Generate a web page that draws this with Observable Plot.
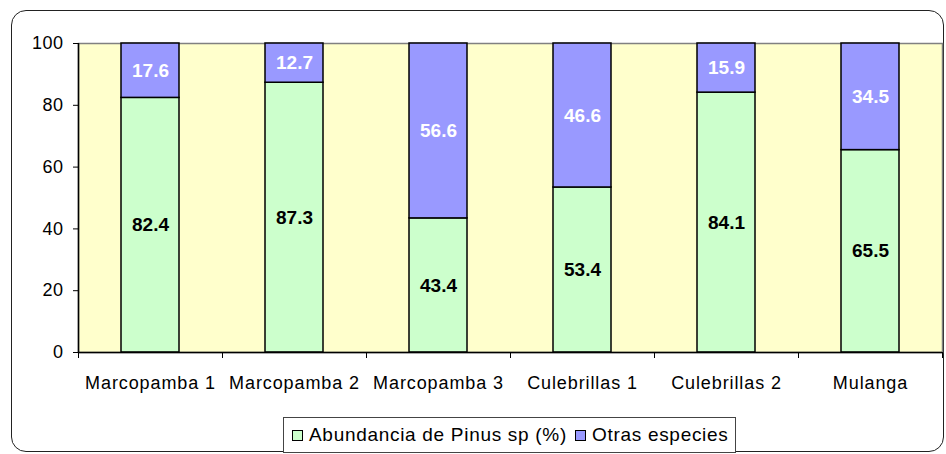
<!DOCTYPE html>
<html>
<head>
<meta charset="utf-8">
<script src="https://cdn.jsdelivr.net/npm/d3@7"></script>
<script src="https://cdn.jsdelivr.net/npm/@observablehq/plot@0.6"></script>
<style>
  html, body { margin: 0; padding: 0; background: #fff; }
  #wrap { position: relative; width: 946px; height: 454px; overflow: hidden; font-family: "Liberation Sans", Arial, sans-serif; }
  #box { position: absolute; left: 11px; top: 10px; width: 933px; height: 442px; box-sizing: border-box; border: 1.5px solid #222; border-radius: 15px; }
  #chart { position: absolute; left: 0; top: 0; }
  #legend { position: absolute; left: 283px; top: 417px; width: 453px; height: 36px; box-sizing: border-box; border: 1px solid #444; background: #fff;
            display: flex; align-items: center; font-size: 19px; letter-spacing: 0.7px; color: #000; white-space: nowrap; }
  .sw { display: inline-block; width: 9px; height: 9px; border: 1px solid #000; margin-left: 8px; margin-right: 6px; }
</style>
</head>
<body>
<div id="wrap">
  <div id="box"></div>
  <div id="chart"></div>
  <div id="legend"></div>
</div>
<script>
const categories = ["Marcopamba 1", "Marcopamba 2", "Marcopamba 3", "Culebrillas 1", "Culebrillas 2", "Mulanga"];
const pinus = [82.4, 87.3, 43.4, 53.4, 84.1, 65.5];
const otras = [17.6, 12.7, 56.6, 46.6, 15.9, 34.5];
const seriesNames = ["Abundancia de Pinus sp (%)", "Otras especies"];
const seriesColors = ["#CCFFCC", "#9999FF"];
const yTicks = [0, 20, 40, 60, 80, 100];

const data = categories.map((c, i) => ({cat: c, i, pinus: pinus[i], otras: otras[i], total: pinus[i] + otras[i]}));

const chart = Plot.plot({
  width: 946,
  height: 454,
  marginLeft: 78,
  marginRight: 4,
  marginTop: 43,
  marginBottom: 102,
  style: {fontFamily: "'Liberation Sans', Arial, sans-serif", fontSize: "18px", background: "transparent", color: "#000"},
  x: {domain: [0, categories.length], axis: null, label: null},
  y: {domain: [0, 100], axis: null, label: null},
  marks: [
    Plot.frame({fill: "#FFFFCC", stroke: "#808080", strokeWidth: 1.5}),
    Plot.rectY(data, {x1: "i", x2: d => d.i + 1, y1: d => 0, y2: "pinus", fill: seriesColors[0], stroke: "#000", strokeWidth: 1.5, insetLeft: 43, insetRight: 43}),
    Plot.rectY(data, {x1: "i", x2: d => d.i + 1, y1: "pinus", y2: "total", fill: seriesColors[1], stroke: "#000", strokeWidth: 1.5, insetLeft: 43, insetRight: 43}),
    Plot.ruleX([0], {stroke: "#000", strokeWidth: 1.5}),
    Plot.ruleY([0], {stroke: "#000", strokeWidth: 1.5}),
    Plot.axisY({ticks: yTicks, tickSize: 5, tickPadding: 10, fontSize: 18, stroke: "#000", label: null}),
    Plot.axisX({ticks: d3.range(categories.length + 1), tickSize: 6, tickFormat: () => "", stroke: "#000", label: null}),
    Plot.text(data, {x: d => d.i + 0.5, y: d => 0, text: "cat", dy: 31, lineAnchor: "middle", fontSize: 18, fill: "#000"}),
    Plot.text(data, {x: d => d.i + 0.5, y: d => d.pinus / 2, text: d => d.pinus.toFixed(1), lineAnchor: "middle", fontSize: 19, fontWeight: "bold", fill: "#000"}),
    Plot.text(data, {x: d => d.i + 0.5, y: d => d.pinus + d.otras / 2, text: d => d.otras.toFixed(1), lineAnchor: "middle", fontSize: 19, fontWeight: "bold", fill: "#fff"})
  ]
});
document.getElementById("chart").appendChild(chart);
d3.select(chart).selectAll("text")
  .filter(function() { return categories.includes(this.textContent); })
  .style("letter-spacing", "0.9px");
d3.select(chart).selectAll("text")
  .filter(function() { return yTicks.map(String).includes(this.textContent); })
  .style("letter-spacing", "0.5px");

const legend = document.getElementById("legend");
seriesNames.forEach((name, k) => {
  const sw = document.createElement("span");
  sw.className = "sw";
  sw.style.background = seriesColors[k];
  legend.appendChild(sw);
  const t = document.createElement("span");
  t.textContent = name;
  legend.appendChild(t);
});
</script>
</body>
</html>
